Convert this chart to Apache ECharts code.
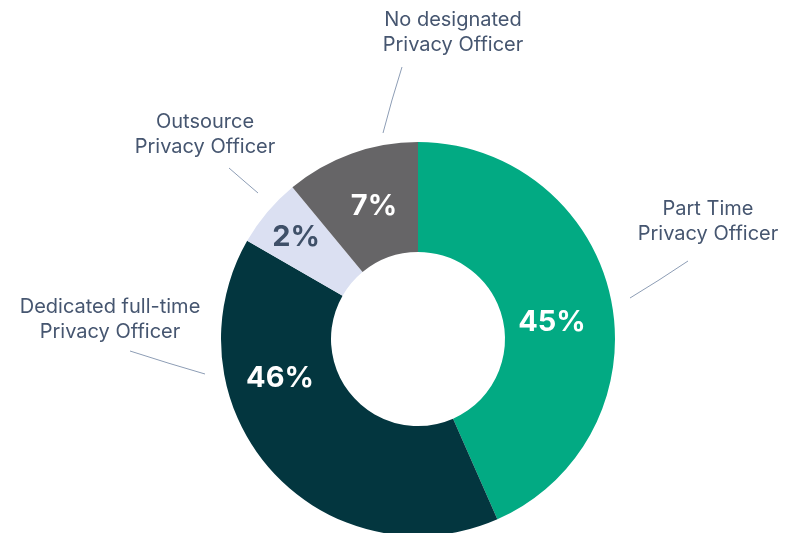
<!DOCTYPE html>
<html>
<head>
    <meta charset="UTF-8">
    <title>Privacy Officer</title>
    <script type="text/javascript" src="https://cdn.jsdelivr.net/npm/echarts@6/dist/echarts.min.js"></script>
    <style>
        html, body { margin: 0; padding: 0; background: #fff; }
        #chart { width: 786px; height: 533px; }
    </style>
</head>
<body>
<div id="chart"></div>

<script>
    // data (slice sizes as drawn, labels as printed)
    var categories = ['Part Time\nPrivacy Officer', 'Dedicated full-time\nPrivacy Officer', 'Outsource\nPrivacy Officer', 'No designated\nPrivacy Officer'];
    var shares = [43.4, 39.9, 5.7, 11.0];
    var percentLabels = ['45%', '46%', '2%', '7%'];

    var colors = ['#02aa83', '#03363f', '#dbe0f2', '#666567'];
    var pctColors = ['#ffffff', '#ffffff', '#3f5068', '#ffffff'];

    // label placement
    var innerPos = [[552, 322], [280, 378], [296, 237], [374, 206]];
    var outerPos = [[708, 221], [110, 319], [205, 134], [453, 32]];
    var linePts = [
        [[688, 261], [659, 280], [630, 298]],
        [[130, 351], [168, 363], [205, 374]],
        [[229, 168], [244, 181], [258, 193]],
        [[402, 67], [392, 100], [383, 133]]
    ];

    var pieData = [];
    for (var i = 0; i < categories.length; i++) {
        pieData.push({
            value: shares[i],
            name: categories[i],
            itemStyle: {color: colors[i]},
            label: {color: pctColors[i]}
        });
    }

    var option = {
        animation: false,
        series: [
            {
                // the donut with its percent labels
                type: 'pie',
                center: [418, 339],
                radius: [87, 197],
                startAngle: 90,
                silent: true,
                avoidLabelOverlap: false,
                label: {
                    show: true,
                    position: 'inside',
                    fontFamily: 'Inter',
                    fontWeight: 'bold',
                    fontSize: 29,
                    formatter: function (p) { return percentLabels[p.dataIndex]; }
                },
                labelLine: {show: false},
                labelLayout: function (p) {
                    return {x: innerPos[p.dataIndex][0], y: innerPos[p.dataIndex][1], align: 'center', verticalAlign: 'middle'};
                },
                data: pieData
            },
            {
                // invisible copy carrying the category names and leader lines
                type: 'pie',
                center: [418, 339],
                radius: [87, 197],
                startAngle: 90,
                silent: true,
                avoidLabelOverlap: false,
                itemStyle: {color: 'rgba(0,0,0,0)'},
                label: {
                    show: true,
                    position: 'outside',
                    fontFamily: 'Inter',
                    fontSize: 20,
                    lineHeight: 25,
                    color: '#465670',
                    align: 'center',
                    formatter: '{b}'
                },
                labelLine: {show: true, lineStyle: {color: '#8d9db5', width: 1}},
                labelLayout: function (p) {
                    var k = p.dataIndex;
                    return {
                        x: outerPos[k][0], y: outerPos[k][1],
                        align: 'center', verticalAlign: 'middle',
                        labelLinePoints: linePts[k]
                    };
                },
                data: categories.map(function (c, i) { return {value: shares[i], name: c}; })
            }
        ]
    };

    var myChart = echarts.init(document.getElementById('chart'));
    myChart.setOption(option);
</script>
</body>
</html>
